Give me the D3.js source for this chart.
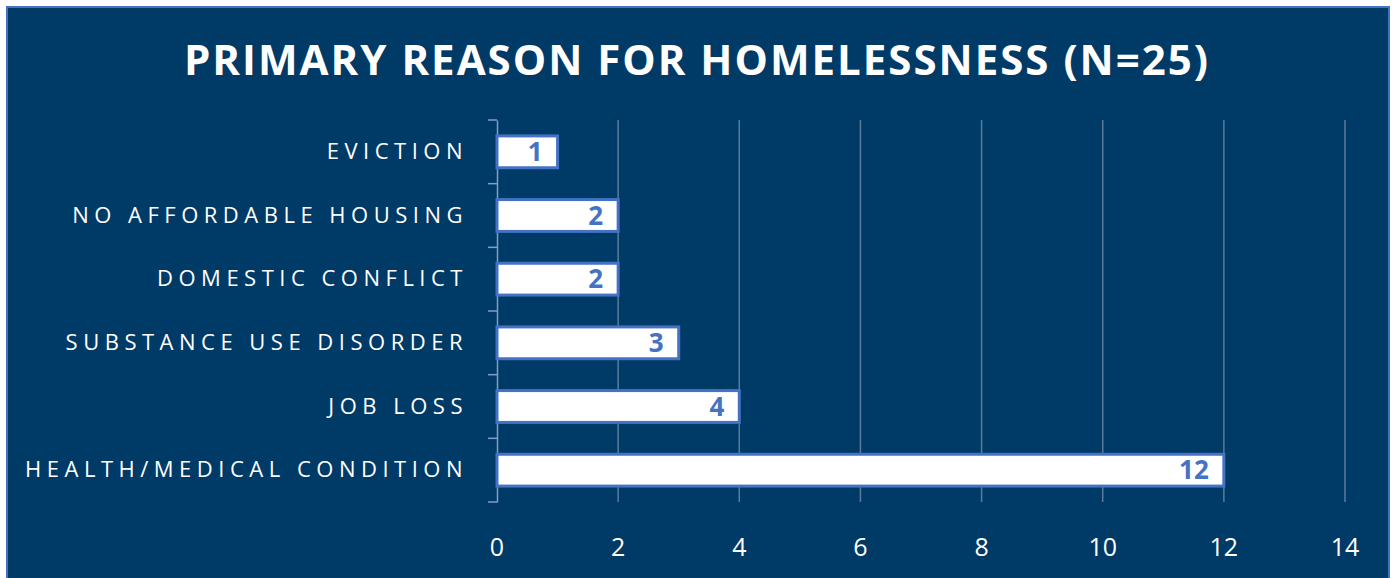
<!DOCTYPE html>
<html>
<head>
<meta charset="utf-8">
<script src="https://cdn.jsdelivr.net/npm/d3@7"></script>
<style>
  body { margin: 0; background: #fff; }
  svg { display: block; }
</style>
</head>
<body>
<script>
// 数据
const categories = ["EVICTION", "NO AFFORDABLE HOUSING", "DOMESTIC CONFLICT", "SUBSTANCE USE DISORDER", "JOB LOSS", "HEALTH/MEDICAL CONDITION"];
const counts = [1, 2, 2, 3, 4, 12];
const xTicks = [0, 2, 4, 6, 8, 10, 12, 14];
const title = "PRIMARY REASON FOR HOMELESSNESS (N=25)";

const width = 1393, height = 578;
const margin = { top: 120, right: 48, bottom: 76, left: 497 };

const svg = d3.select("body").append("svg")
    .attr("width", width)
    .attr("height", height);

// 背景和边框
svg.append("rect")
    .attr("x", 7).attr("y", 7)
    .attr("width", 1382).attr("height", height)
    .attr("fill", "#003A66")
    .attr("stroke", "#4472C4")
    .attr("stroke-width", 2);

svg.append("text")
    .attr("x", 697).attr("y", 75)
    .attr("text-anchor", "middle")
    .attr("fill", "#fff")
    .style("font-family", "'Open Sans', sans-serif")
    .style("font-weight", "bold")
    .style("font-size", "42px")
    .style("letter-spacing", "2px")
    .text(title);

const x = d3.scaleLinear()
    .domain([0, 14])
    .range([margin.left, width - margin.right]);

const y = d3.scaleBand()
    .domain(categories)
    .range([margin.top, height - margin.bottom])
    .paddingInner(0.5)
    .paddingOuter(0.25);

// 网格线
svg.append("g")
    .selectAll("line")
    .data(xTicks.slice(1))
    .enter().append("line")
    .attr("x1", d => x(d)).attr("x2", d => x(d))
    .attr("y1", margin.top).attr("y2", height - margin.bottom)
    .attr("stroke", "#5a7c9c")
    .attr("stroke-width", 1.5);

// y轴
const yAxis = svg.append("g")
    .attr("transform", `translate(${margin.left},0)`)
    .call(d3.axisLeft(y).tickSize(0).tickPadding(29));
yAxis.select(".domain").attr("stroke", "#7f9fc4").attr("stroke-width", 1.5);
yAxis.selectAll("text")
    .attr("fill", "#fff")
    .style("font-family", "'Open Sans', sans-serif")
    .style("font-size", "22px")
    .style("letter-spacing", "5.5px");

// 类别分隔刻度
const bounds = d3.range(categories.length + 1).map(i => margin.top + i * (height - margin.bottom - margin.top) / categories.length);
svg.append("g")
    .selectAll("line")
    .data(bounds)
    .enter().append("line")
    .attr("x1", margin.left - 9).attr("x2", margin.left)
    .attr("y1", d => d).attr("y2", d => d)
    .attr("stroke", "#7f9fc4")
    .attr("stroke-width", 1.5);

// x轴标签
svg.append("g")
    .selectAll("text")
    .data(xTicks)
    .enter().append("text")
    .attr("x", d => x(d))
    .attr("y", 556)
    .attr("text-anchor", "middle")
    .attr("fill", "#fff")
    .style("font-family", "'Open Sans', sans-serif")
    .style("font-size", "25px")
    .text(d => d);

// 条形
svg.selectAll(".bar")
    .data(categories)
    .enter().append("rect")
    .attr("class", "bar")
    .attr("x", x(0))
    .attr("y", d => y(d))
    .attr("width", (d, i) => x(counts[i]) - x(0))
    .attr("height", y.bandwidth())
    .attr("fill", "#fff")
    .attr("stroke", "#4472C4")
    .attr("stroke-width", 3);

svg.selectAll(".val")
    .data(categories)
    .enter().append("text")
    .attr("class", "val")
    .attr("x", (d, i) => x(counts[i]) - 15)
    .attr("y", d => y(d) + y.bandwidth() / 2 + 9)
    .attr("text-anchor", "end")
    .attr("fill", "#4472C4")
    .style("font-family", "'Open Sans', sans-serif")
    .style("font-weight", "bold")
    .style("font-size", "26px")
    .text((d, i) => counts[i]);
</script>
</body>
</html>
